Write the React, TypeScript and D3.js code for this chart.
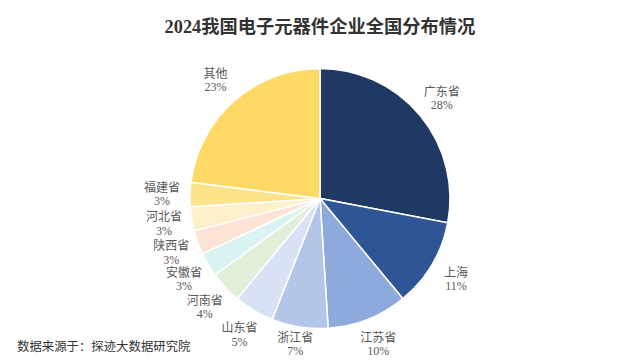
import React from "react";
import * as d3 from "d3";

const categories = ["广东省", "上海", "江苏省", "浙江省", "山东省", "河南省", "安徽省", "陕西省", "河北省", "福建省", "其他"];
const values = [28, 11, 10, 7, 5, 4, 3, 3, 3, 3, 23];
const colors = ["#203864", "#2F5597", "#8EA9DB", "#B4C6E7", "#D9E1F4", "#E3EED9", "#D9F2F2", "#FCE3D6", "#FFF0CC", "#FFE38A", "#FFD966"];

const W = 640;
const H = 362;
const cx = 320;
const cy = 198.5;
const R = 130;
const LR = 158;
const maxLabelY = 145;
const font = "'Liberation Serif', 'Noto Sans CJK SC', serif";

export default function App() {
  const data = categories.map((c, i) => ({ name: c, value: values[i], color: colors[i] }));
  const pie = d3.pie<any>().value((d) => d.value).sort(null);
  const arcs = pie(data);
  const arc = d3.arc<any>().innerRadius(0).outerRadius(R);
  const labelArc = d3.arc<any>().innerRadius(LR).outerRadius(LR);
  return (
    <svg width={W} height={H} style={{ position: "absolute", left: 0, top: 0, background: "#fff" }}>
      <text x={W / 2} y={33} textAnchor="middle" fontFamily={font} fontWeight="bold" fontSize={18.3} fill="#333">
        2024我国电子元器件企业全国分布情况
      </text>
      <g transform={`translate(${cx},${cy})`}>
        {arcs.map((a, i) => (
          <path key={i} d={arc(a) as string} fill={a.data.color} stroke="#fff" strokeWidth={1.5} />
        ))}
        {arcs.map((a, i) => {
          const c = labelArc.centroid(a);
          const x = c[0];
          const y = Math.min(c[1], maxLabelY);
          return (
            <text key={"l" + i} textAnchor="middle" fontFamily={font} fontSize={12} fill="#595959">
              <tspan x={x} y={y - 2}>{a.data.name}</tspan>
              <tspan x={x} y={y + 11.5}>{a.data.value}%</tspan>
            </text>
          );
        })}
      </g>
      <text x={17} y={351} fontFamily={font} fontSize={12.4} fill="#333">
        数据来源于：探迹大数据研究院
      </text>
    </svg>
  );
}
